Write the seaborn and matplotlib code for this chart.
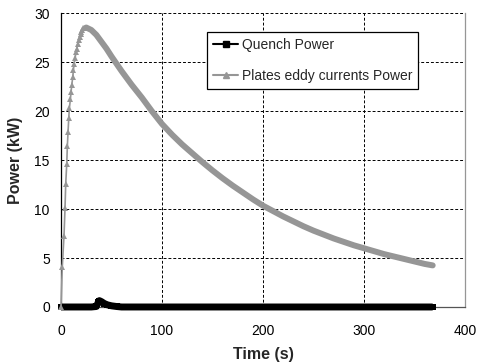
import matplotlib
matplotlib.use("Agg")
import matplotlib.pyplot as plt
import seaborn as sns
import pandas as pd
from matplotlib.lines import Line2D

# ---- data ----
t_rise = [0, 1.3, 3.0, 4.0, 4.7, 5.7, 6.3, 7.0, 7.7, 8.3, 9.3, 10.0, 10.7,
          11.7, 12.3, 13.0, 14.0, 14.7, 15.7, 16.7, 17.6, 18.5, 19.4, 20.3,
          21.2, 22.1, 23.0, 24.0, 25.0]
p_rise = [0, 4.1, 7.3, 10.1, 12.6, 14.6, 16.4, 17.9, 19.3, 20.3, 21.2, 22.0,
          22.7, 23.5, 24.2, 24.8, 25.4, 26.0, 26.4, 26.9, 27.3, 27.6, 27.9,
          28.1, 28.3, 28.45, 28.5, 28.55, 28.55]

t_decay = [25, 30, 35, 40, 45, 50, 55, 60, 70, 80, 90, 100, 110, 120, 130,
           140, 150, 160, 170, 180, 190, 200, 210, 220, 230, 240, 250, 260,
           270, 280, 290, 300, 310, 320, 330, 340, 350, 360, 368]
p_decay = [28.55, 28.3, 27.8, 27.1, 26.4, 25.6, 24.85, 24.1, 22.7, 21.4, 20.0,
           18.7, 17.6, 16.6, 15.7, 14.8, 13.95, 13.15, 12.4, 11.7, 11.0, 10.35,
           9.8, 9.25, 8.75, 8.25, 7.8, 7.4, 7.0, 6.65, 6.3, 6.0, 5.7, 5.4, 5.15,
           4.9, 4.65, 4.4, 4.25]

t_quench = [0, 10, 20, 30, 35, 37, 38, 40, 43, 46, 50, 55, 60, 100, 150, 200,
            250, 300, 350, 368]
p_quench = [0, 0, 0, 0, 0.05, 0.5, 0.65, 0.55, 0.35, 0.22, 0.12, 0.05, 0.0,
            0.0, 0.0, 0.0, 0.0, 0.0, 0.0, 0.0]

series_names = ["Quench Power", "Plates eddy currents Power"]
x_ticks = [0, 100, 200, 300, 400]
y_ticks = [0, 5, 10, 15, 20, 25, 30]

# ---- style ----
sns.set_style("white")
plt.rcParams["font.family"] = ["Liberation Sans", "DejaVu Sans"]

GRAY = "#969696"
fig = plt.figure(figsize=(4.79, 3.63), dpi=100)
ax = fig.add_axes([0.1273, 0.1543, 0.8435, 0.809])

df_q = pd.DataFrame({"t": t_quench, "p": p_quench})
df_r = pd.DataFrame({"t": t_rise, "p": p_rise})
df_d = pd.DataFrame({"t": t_decay, "p": p_decay})

sns.lineplot(data=df_q, x="t", y="p", ax=ax, color="black", linewidth=5.0,
             marker="s", markersize=4, markeredgewidth=0, estimator=None,
             sort=False, solid_capstyle="butt", zorder=3, clip_on=False)
sns.lineplot(data=df_d, x="t", y="p", ax=ax, color=GRAY, linewidth=4.3,
             estimator=None, sort=False, solid_capstyle="round", zorder=4)
sns.lineplot(data=df_r, x="t", y="p", ax=ax, color=GRAY, linewidth=1.2,
             marker="^", markersize=5, markeredgewidth=0, estimator=None,
             sort=False, zorder=5, clip_on=False)

ax.set_xlim(0, 400)
ax.set_ylim(0, 30)
ax.set_xticks(x_ticks)
ax.set_yticks(y_ticks)
ax.set_xticklabels([str(v) for v in x_ticks], fontsize=10)
ax.set_yticklabels([str(v) for v in y_ticks], fontsize=10)
ax.tick_params(axis="both", direction="out", length=4, width=0.8,
               color="black", labelcolor="black")
ax.tick_params(axis="x", pad=8)
ax.tick_params(axis="y", pad=4)

ax.grid(True, color="black", linestyle=(0, (3, 2)), linewidth=0.7)
ax.set_axisbelow(True)

for s in ["left", "bottom"]:
    ax.spines[s].set_color("black")
    ax.spines[s].set_linewidth(0.9)
ax.spines["top"].set_visible(False)
ax.spines["right"].set_color(GRAY)
ax.spines["right"].set_linewidth(0.9)
ax.spines["bottom"].set_color("#555555")

ax.set_xlabel("Time (s)", fontsize=11.5, fontweight="bold", labelpad=7)
ax.set_ylabel("Power (kW)", fontsize=11.5, fontweight="bold", labelpad=8)

handles = [
    Line2D([], [], color="black", linewidth=1.5, marker="s", markersize=4),
    Line2D([], [], color=GRAY, linewidth=1.5, marker="^", markersize=4),
]
leg = fig.legend(handles, series_names, loc="upper left",
                 bbox_to_anchor=(207 / 479, 1 - 32 / 363),
                 bbox_transform=fig.transFigure,
                 frameon=True, fancybox=False, framealpha=1, edgecolor="black",
                 fontsize=10, handlelength=1.8, handletextpad=0.25,
                 labelspacing=1.2, borderpad=0.45, borderaxespad=0)
leg.get_frame().set_linewidth(0.9)

fig.savefig("out.png", dpi=100)
